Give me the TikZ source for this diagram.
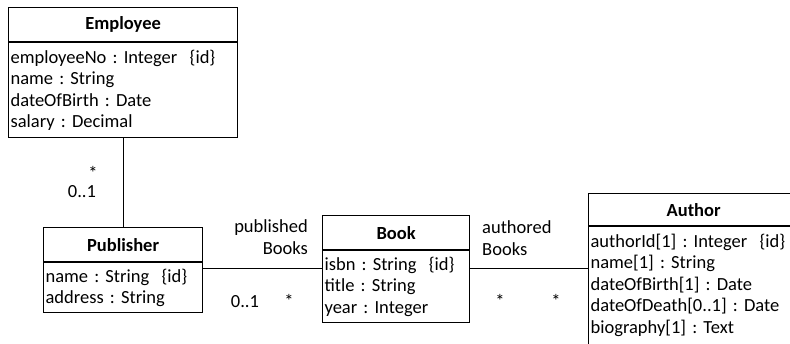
\documentclass[tikz,border=0pt]{standalone}
\usepackage{fontspec}
\setmainfont{Carlito}
\usetikzlibrary{positioning}
\frenchspacing
\newcommand{\umlsize}{\fontsize{18.5pt}{21.5pt}\selectfont}
\tikzset{
  cls/.style={draw=black,line width=1.2pt,minimum height=34pt,inner sep=0pt,font=\umlsize\bfseries},
  attrs/.style={draw=black,line width=1.2pt,inner xsep=2pt,inner ysep=0pt,align=left,font=\umlsize},
  assoc/.style={draw=black,line width=1pt},
  mult/.style={anchor=base,font=\umlsize,inner sep=0pt},
  role/.style={font=\umlsize,inner sep=0pt},
}

\begin{document}
\begin{tikzpicture}[x=1pt,y=-1pt]
\useasboundingbox (0,0) rectangle (790,343);
\clip (0,0) rectangle (790,343);
\coordinate (empcorner) at (8,7);
\coordinate (pubcorner) at (43,227);
\coordinate (bookcorner) at (322,215);
\coordinate (authcorner) at (588,193);
\coordinate (assocy) at (0,268);
\node[cls,minimum width=229pt,anchor=north west] (emp) at (empcorner) {Employee};
\node[attrs,text width=225pt,minimum height=95pt,below=0pt of emp] (emp-a)
  {employeeNo : Integer~ \{id\}\\name : String\\dateOfBirth : Date\\salary : Decimal};
\node[cls,minimum width=159pt,anchor=north west] (pub) at (pubcorner) {Publisher};
\node[attrs,text width=155pt,minimum height=50pt,below=0pt of pub] (pub-a)
  {name : String~ \{id\}\\address : String};
\node[cls,minimum width=147pt,anchor=north west] (book) at (bookcorner) {Book};
\node[attrs,text width=143pt,minimum height=72pt,below=0pt of book] (book-a)
  {isbn : String~ \{id\}\\title : String\\year : Integer};
\node[cls,minimum width=210pt,minimum height=32pt,anchor=north west] (auth) at (authcorner) {Author};
\node[attrs,text width=206pt,inner ysep=7pt,anchor=north west] (auth-a) at (auth.south west)
  {authorId[1] : Integer~ \{id\}\\name[1] : String\\dateOfBirth[1] : Date\\dateOfDeath[0..1] : Date\\biography[1] : Text\\ \strut};
\draw[assoc] (emp-a.south) -- (pub.north);
\draw[assoc] (pub-a.east |- assocy) -- (book-a.west |- assocy);
\draw[assoc] (book-a.east |- assocy) -- (auth-a.west |- assocy);
\node[mult] (empmany) at (93,179) {*};
\node[mult] (pubone) at (82,197) {0..1};
\node[role,align=right,anchor=east] (pubrole) at (308,237) {published\\Books};
\node[mult] (bookpubone) at (245,307) {0..1};
\node[mult] (pubmany) at (289,307) {*};
\node[role,align=left,anchor=west] (authrole) at (482,238) {authored\\Books};
\node[mult] (bookmany) at (500,307) {*};
\node[mult] (authmany) at (556,307) {*};
\end{tikzpicture}
\end{document}
